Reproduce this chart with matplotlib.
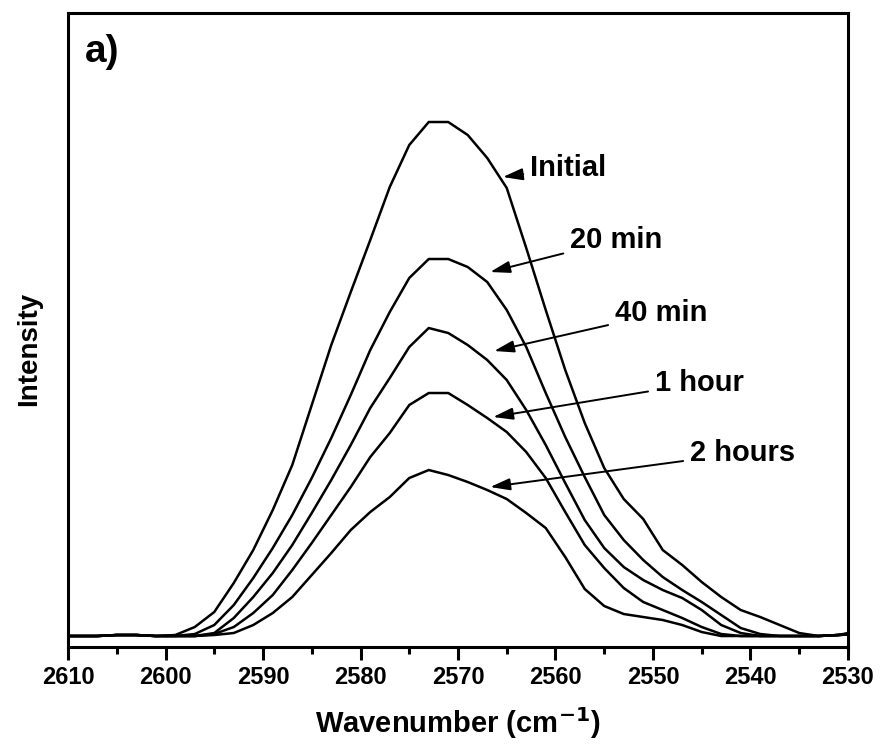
import numpy as np
import matplotlib
matplotlib.use("Agg")
import matplotlib.pyplot as plt
from matplotlib.ticker import MultipleLocator

plt.rcParams['font.family'] = ['Liberation Sans', 'DejaVu Sans']
plt.rcParams['font.weight'] = 'bold'

# Raman shift grid (cm-1), every 2 cm-1
wavenumber = np.arange(2611, 2528, -2)

# intensity (a.u.), one value per wavenumber above
initial = [0, 0, 0, 1, 1, 0, 1, 9, 24, 53, 86, 126, 171, 231, 291, 344, 396, 449, 491, 514,
           514, 501, 478, 448, 388, 326, 266, 213, 168, 137, 117, 86, 71, 54, 39, 26, 19, 11, 3, 0, 1, 5]
min20 = [0, 0, 0, 1, 1, 0, 0, 2, 11, 31, 58, 88, 121, 158, 198, 241, 286, 324, 358, 377,
         377, 369, 354, 326, 289, 243, 199, 159, 121, 96, 76, 59, 46, 34, 21, 8, 2, 0, 0, 0, 1, 3]
min40 = [0, 0, 0, 1, 1, 0, 0, 0, 3, 18, 39, 63, 91, 123, 156, 191, 228, 258, 289, 308,
         303, 291, 276, 256, 226, 191, 153, 116, 88, 69, 56, 46, 38, 26, 11, 3, 0, 0, 0, 0, 1, 2]
hour1 = [0, 0, 0, 1, 1, 0, 0, 0, 2, 9, 23, 41, 66, 93, 121, 149, 179, 203, 231, 243,
         243, 231, 218, 204, 184, 158, 124, 91, 68, 48, 34, 26, 18, 9, 2, 0, 0, 0, 0, 0, 1, 2]
hours2 = [0, 0, 0, 1, 1, 0, 0, 0, 1, 3, 11, 23, 39, 61, 83, 106, 124, 139, 158, 166,
          161, 154, 146, 137, 123, 108, 79, 47, 30, 22, 19, 16, 11, 4, 0, 0, 0, 0, 0, 0, 1, 2]

series = [initial, min20, min40, hour1, hours2]
labels = ['Initial', '20 min', '40 min', '1 hour', '2 hours']
# arrow tip (x, y) and text position (x, y) in data units
arrow_tips = [(2565.4, 459), (2566.7, 364), (2566.3, 285), (2566.4, 219), (2566.7, 149)]
text_pos = [(2562.6, 468), (2558.5, 396), (2553.9, 323), (2549.8, 253), (2546.2, 183)]

fig = plt.figure(figsize=(8.8, 7.48), dpi=100)
ax = fig.add_axes([0.0773, 0.135, 0.8863, 0.8476])

for s in series:
    ax.plot(wavenumber, s, color='black', lw=1.8)

for lab, tip, tp in zip(labels, arrow_tips, text_pos):
    ax.annotate(lab, xy=tip, xytext=tp, ha='left', va='center',
                fontsize=21, fontweight='bold',
                arrowprops=dict(arrowstyle='-|>,head_length=0.6,head_width=0.18',
                                color='black', lw=1.4, shrinkA=3, shrinkB=0,
                                mutation_scale=20))

ax.set_xlim(2610, 2530)
ax.set_ylim(-11, 623)
ax.xaxis.set_major_locator(MultipleLocator(10))
ax.xaxis.set_minor_locator(MultipleLocator(5))
ax.tick_params(axis='x', which='major', direction='out', length=9.5, width=2.2,
               labelsize=17, pad=4)
ax.tick_params(axis='x', which='minor', direction='out', length=5, width=2.2)
ax.set_yticks([])
for sp in ax.spines.values():
    sp.set_linewidth(2.2)
for lab in ax.get_xticklabels():
    lab.set_fontweight('bold')

ax.set_xlabel('Wavenumber (cm$^{\\mathbf{-1}}$)', fontsize=21, fontweight='bold', labelpad=12)
ax.set_ylabel('Intensity', fontsize=20, fontweight='bold')
ax.yaxis.set_label_coords(-0.033, 0.47)
ax.text(0.022, 0.967, 'a)', transform=ax.transAxes, fontsize=28, fontweight='bold',
        ha='left', va='top')

fig.savefig('out.png', dpi=100)
